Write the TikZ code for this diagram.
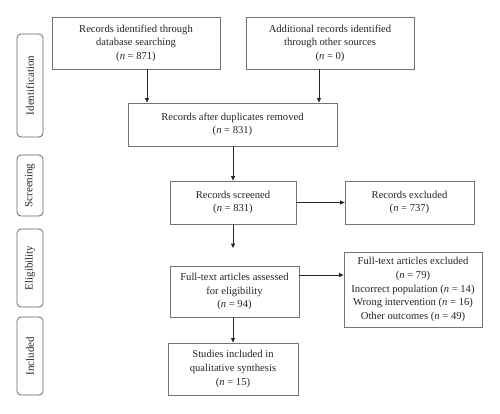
\documentclass[tikz,border=0pt]{standalone}
\usepackage{fontspec}
\setmainfont{Liberation Serif}
\usetikzlibrary{arrows.meta}
\begin{document}
\begin{tikzpicture}[x=1pt,y=-1pt,
  box/.style={draw=black!55, line width=0.8pt, align=center, inner sep=2pt,
    font=\fontsize{10.6}{13.6}\selectfont, text=black!85},
  side/.style={draw=black!60, line width=0.8pt, rounded corners=4pt, minimum width=26pt,
    rotate=90, font=\fontsize{11}{12}\selectfont, text=black!85, inner sep=0pt},
  arr/.style={draw=black!85, line width=0.9pt, -{Triangle[length=4.5pt,width=4pt]}}]
\useasboundingbox (0,0) rectangle (500,413);
\fill[white] (0,0) rectangle (500,413);
% side labels (rotated: minimum height is horizontal extent)
\node[side, minimum width=103pt, minimum height=26pt] (sid) at (30,85.5) {Identification};
\node[side, minimum width=61pt, minimum height=26pt] (sscr) at (30,185.5) {Screening};
\node[side, minimum width=78pt, minimum height=26pt] (selig) at (30,268) {Eligibility};
\node[side, minimum width=78pt, minimum height=26pt] (sinc) at (30,356) {Included};
% boxes
\node[box, minimum width=168pt, minimum height=52pt] (b1) at (136,43)
  {Records identified through\\database searching\\(\textit{n} = 871)};
\node[box, minimum width=168pt, minimum height=52pt] (b2) at (330,43)
  {Additional records identified\\through other sources\\(\textit{n} = 0)};
\node[box, minimum width=209pt, minimum height=43pt] (dup) at (232.5,124.5)
  {Records after duplicates removed\\(\textit{n} = 831)};
\node[box, minimum width=126pt, minimum height=43pt] (scr) at (233,202.5)
  {Records screened\\(\textit{n} = 831)};
\node[box, minimum width=129pt, minimum height=43pt] (exc) at (409.5,202.5)
  {Records excluded\\(\textit{n} = 737)};
\node[box, minimum width=129pt, minimum height=51pt] (ft) at (234.5,291.5)
  {Full-text articles assessed\\for eligibility\\(\textit{n} = 94)};
\node[box, minimum width=138pt, minimum height=75pt] (fte) at (413,289.5)
  {Full-text articles excluded\\(\textit{n} = 79)\\Incorrect population (\textit{n} = 14)\\Wrong intervention (\textit{n} = 16)\\Other outcomes (\textit{n} = 49)};
\node[box, minimum width=130pt, minimum height=52pt] (stu) at (233,369)
  {Studies included in\\qualitative synthesis\\(\textit{n} = 15)};
% connector helpers
\coordinate (c1) at (147,0);
\coordinate (c2) at (319,0);
\coordinate (c3) at (233,0);
\coordinate (cft) at (233,248);
\coordinate (cy1) at (0,275);
% connectors
\draw[arr] (b1.south -| c1) -- (dup.north -| c1);
\draw[arr] (b2.south -| c2) -- (dup.north -| c2);
\draw[arr] (dup.south -| c3) -- (scr.north -| c3);
\draw[arr] (scr.south -| c3) -- (cft);
\draw[arr] (scr.east) -- (exc.west);
\draw[arr] (ft.east |- cy1) -- (fte.west |- cy1);
\draw[arr] (ft.south -| c3) -- (stu.north -| c3);
\end{tikzpicture}
\end{document}
